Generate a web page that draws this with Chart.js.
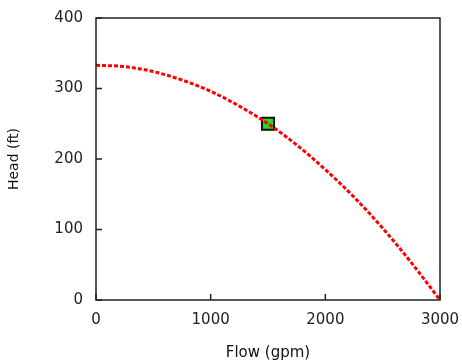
<!DOCTYPE html>
<html>
<head>
<meta charset="utf-8">
<script src="https://cdn.jsdelivr.net/npm/chart.js@4.4.1/dist/chart.umd.min.js"></script>
<style>
  html, body { margin: 0; padding: 0; background: #ffffff; }
  #wrap { width: 462px; height: 363px; }
</style>
</head>
<body>
<div id="wrap"><canvas id="pumpChart" width="462" height="363"></canvas></div>
<script>
// pump curve (flow in gpm, head in ft)
const flowGpm = [0, 250, 500, 750, 1000, 1250, 1500, 1750, 2000, 2250, 2500, 2750, 3000];
const headFt  = [333, 331, 324, 312, 296, 275, 250, 220, 185, 146, 102, 53, 0];

// operating point
const opFlow = [1500];
const opHead = [250];

// axis ticks
const xTicks = [0, 1000, 2000, 3000];
const yTicks = [0, 100, 200, 300, 400];

const FONT = 'DejaVu Sans';
const INK = '#222222';

// frame around the plot area + inward tick marks
const framePlugin = {
  id: 'frame',
  afterDatasetsDraw(chart) {
    const { ctx, chartArea: a, scales } = chart;
    ctx.save();
    ctx.strokeStyle = INK;
    ctx.lineWidth = 1.5;
    ctx.strokeRect(a.left, a.top, a.right - a.left, a.bottom - a.top);
    ctx.beginPath();
    xTicks.forEach(v => {
      const px = scales.x.getPixelForValue(v);
      ctx.moveTo(px, a.bottom);
      ctx.lineTo(px, a.bottom - 6);
    });
    yTicks.forEach(v => {
      const py = scales.y.getPixelForValue(v);
      ctx.moveTo(a.left, py);
      ctx.lineTo(a.left + 6, py);
    });
    ctx.stroke();
    ctx.restore();
  }
};

const ctx = document.getElementById('pumpChart').getContext('2d');
new Chart(ctx, {
  type: 'scatter',
  data: {
    datasets: [
      {
        label: 'Pump curve',
        data: flowGpm.map((q, i) => ({ x: q, y: headFt[i] })),
        showLine: true,
        borderColor: '#ff0000',
        borderWidth: 3,
        borderDash: [4, 2],
        pointRadius: 0,
        cubicInterpolationMode: 'monotone',
        order: 1
      },
      {
        label: 'Operating point',
        data: opFlow.map((q, i) => ({ x: q, y: opHead[i] })),
        pointStyle: 'rect',
        pointRadius: 8.5,
        backgroundColor: '#22dd22',
        borderColor: '#111111',
        borderWidth: 2,
        order: 2
      }
    ]
  },
  options: {
    responsive: false,
    animation: false,
    layout: { padding: { left: 0, right: 22, top: 18, bottom: 0 } },
    plugins: {
      legend: { display: false },
      tooltip: { enabled: false }
    },
    scales: {
      x: {
        type: 'linear',
        min: 0,
        max: 3000,
        afterBuildTicks: s => { s.ticks = xTicks.map(v => ({ value: v })); },
        afterFit: s => { s.height = 63; s.paddingLeft = 0; s.paddingRight = 0; },
        grid: { display: false, drawTicks: false },
        border: { display: false },
        ticks: { color: INK, padding: 11, font: { family: FONT, size: 15 }, callback: v => String(v) },
        title: {
          display: true,
          text: 'Flow (gpm)',
          color: '#111',
          font: { family: FONT, size: 15 },
          padding: { top: 0, bottom: 1 }
        }
      },
      y: {
        type: 'linear',
        min: 0,
        max: 400,
        afterBuildTicks: s => { s.ticks = yTicks.map(v => ({ value: v })); },
        afterFit: s => { s.width = 96; s.paddingTop = 0; s.paddingBottom = 0; },
        grid: { display: false, drawTicks: false },
        border: { display: false },
        ticks: { color: INK, padding: 13, font: { family: FONT, size: 15 }, callback: v => String(v) },
        title: {
          display: true,
          text: 'Head (ft)',
          color: '#111',
          font: { family: FONT, size: 14 },
          padding: { top: 6, bottom: 0 }
        }
      }
    }
  },
  plugins: [framePlugin]
});
</script>
</body>
</html>
